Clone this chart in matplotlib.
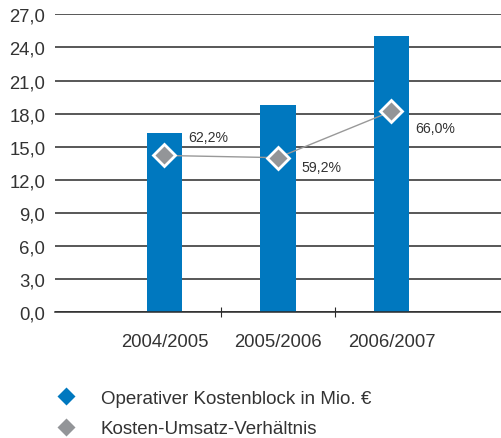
import matplotlib
matplotlib.use('Agg')
import matplotlib.pyplot as plt
from matplotlib.lines import Line2D

plt.rcParams['font.family'] = ['Liberation Sans', 'DejaVu Sans']

years = ['2004/2005', '2005/2006', '2006/2007']
kosten = [16.2, 18.8, 25.0]
# marker heights of the ratio line as drawn in the chart
ratio_pos = [14.2, 14.0, 18.2]
ratio_labels = ['62,2%', '59,2%', '66,0%']
yticks = [0, 3, 6, 9, 12, 15, 18, 21, 24, 27]

blue = '#0078bf'
grey = '#939598'
text_col = '#333333'

fig = plt.figure(figsize=(5.02, 4.39), dpi=100)
ax = fig.add_axes([0.1096, 0.287, 0.8904, 0.678])

x = [1, 2, 3]
ax.set_axisbelow(True)
ax.bar(x, kosten, width=0.31, color=blue, zorder=2)
ax.plot(x, ratio_pos, color='#999999', lw=1, zorder=3)
ax.plot(x, ratio_pos, ls='none', marker='D', ms=11, mfc=grey, mec='white', mew=2, zorder=4)

offsets = [(17, 13), (17, -7), (17, -12)]
for xi, yi, lab, off in zip(x, ratio_pos, ratio_labels, offsets):
    ax.annotate(lab, (xi, yi), xytext=off, textcoords='offset points',
                ha='left', va='center', fontsize=10.2, color=text_col)

ax.set_xlim(0.035, 3.975)
ax.set_ylim(0, 27)
ax.set_yticks(yticks)
ax.set_yticklabels([f'{v:.1f}'.replace('.', ',') for v in yticks])
ax.tick_params(axis='y', length=0, pad=7, labelsize=13.3, labelcolor=text_col)
ax.grid(axis='y', color='#2a2a2a', lw=1.1)

ax.set_xticks([1.5, 2.5])
ax.set_xticklabels([])
ax.set_xticks(x, minor=True)
ax.set_xticklabels(years, minor=True)
ax.tick_params(axis='x', which='major', direction='inout', length=7.5, width=0.8, color='#2a2a2a')
ax.tick_params(axis='x', which='minor', length=0, pad=15, labelsize=13.3, labelcolor=text_col)

for s in ['top', 'right', 'left']:
    ax.spines[s].set_visible(False)
ax.spines['bottom'].set_color('#2a2a2a')
ax.spines['bottom'].set_linewidth(1.1)

handles = [Line2D([], [], ls='none', marker='D', ms=9, mfc=blue, mec='none'),
           Line2D([], [], ls='none', marker='D', ms=9, mfc=grey, mec='none')]
leg = fig.legend(handles, ['Operativer Kostenblock in Mio. €', 'Kosten-Umsatz-Verhältnis'],
                 loc='upper left', bbox_to_anchor=(0.098, 0.127), frameon=False,
                 fontsize=13.5, handlelength=1.0, handletextpad=1.35, labelspacing=0.72,
                 borderaxespad=0)
for t in leg.get_texts():
    t.set_color(text_col)

fig.savefig('out.png', dpi=100)
